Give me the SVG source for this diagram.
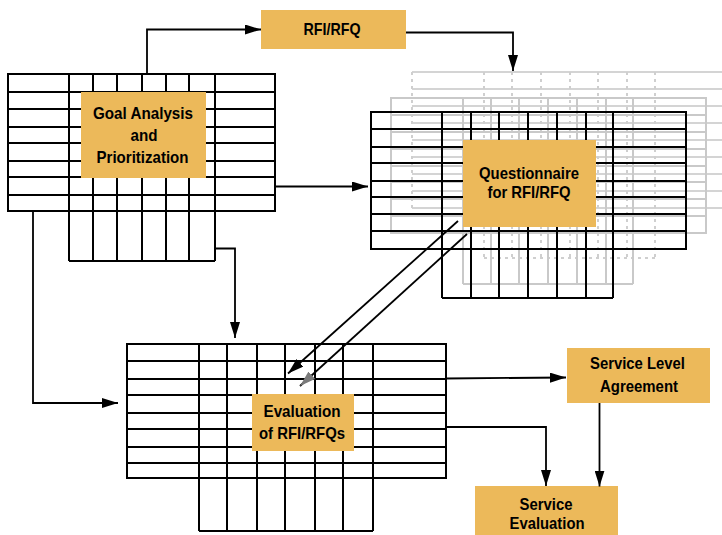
<svg xmlns="http://www.w3.org/2000/svg" width="722" height="535" viewBox="0 0 722 535">
<style>
.grid{fill:none;stroke:#000;stroke-width:2}
.gray{fill:none;stroke:#c9c9c9;stroke-width:2}
.back{fill:none;stroke:#d4d4d4;stroke-width:2}
.dash{fill:none;stroke:#cfcfcf;stroke-width:2;stroke-dasharray:3,4}
.box{fill:#ECB95A}
.lbl{font-family:"Liberation Sans",Arial,sans-serif;font-weight:bold;font-size:16.5px;fill:#000;text-anchor:middle}
.conn{fill:none;stroke:#000;stroke-width:1.8}
</style>
<defs>
<marker id="ah" markerUnits="userSpaceOnUse" viewBox="0 0 16 10" refX="16" refY="5" markerWidth="16" markerHeight="10" orient="auto">
<path d="M0,0 L16,5 L0,10 Z" fill="#000"/>
</marker>
<marker id="ahg" markerUnits="userSpaceOnUse" viewBox="0 0 16 10" refX="16" refY="5" markerWidth="16" markerHeight="10" orient="auto">
<path d="M0,0 L16,5 L0,10 Z" fill="#7a7a7a"/>
</marker>
</defs>
<rect width="722" height="535" fill="#fff"/>

<g id="goal">
<path class="grid" d="M8,74H275V211H8Z M8,92H275 M8,109H275 M8,127H275 M8,143H275 M8,161H275 M8,177H275 M8,195H275 M69,74V261 M93,74V261 M117,74V261 M142,74V261 M166,74V261 M189,74V261 M215,74V261 M69,261H215"/>
<rect class="box" x="81" y="92" width="125" height="86"/>
<text class="lbl" x="143" y="119" textLength="100" lengthAdjust="spacingAndGlyphs">Goal Analysis</text>
<text class="lbl" x="144" y="141" textLength="27" lengthAdjust="spacingAndGlyphs">and</text>
<text class="lbl" x="142.5" y="162.5" textLength="92" lengthAdjust="spacingAndGlyphs">Prioritization</text>
</g>

<g id="rfi">
<rect class="box" x="261" y="10" width="145" height="39"/>
<text class="lbl" x="332" y="34.5" textLength="57" lengthAdjust="spacingAndGlyphs">RFI/RFQ</text>
</g>

<g id="questionnaire">
<path class="back" d="M412,72H722 M412,89H722 M412,106H722 M412,123H722 M412,140H722 M412,157H722 M412,174H722 M412,191H722 M412,208H722"/>
<path class="dash" d="M412,72V208 M484,72V258 M512,72V258 M541,72V258 M570,72V258 M598,72V258 M627,72V258 M655,72V258 M484,258H655"/>
<path class="gray" d="M391,98H706V233H391Z M391,115H706 M391,132H706 M391,149H706 M391,166H706 M391,182H706 M391,199H706 M391,216H706 M463,98V284 M491,98V284 M519,98V284 M548,98V284 M577,98V284 M606,98V284 M633,98V284 M463,284H633"/>
<path class="grid" d="M371,112H686V249H371Z M371,129H686 M371,147H686 M371,163H686 M371,181H686 M371,197H686 M371,214H686 M371,231H686 M442,112V298 M471,112V298 M499,112V298 M528,112V298 M557,112V298 M586,112V298 M613,112V298 M442,298H613"/>
<rect class="box" x="463" y="140" width="133" height="87"/>
<text class="lbl" x="529" y="179" textLength="100" lengthAdjust="spacingAndGlyphs">Questionnaire</text>
<text class="lbl" x="529" y="198" textLength="83" lengthAdjust="spacingAndGlyphs">for RFI/RFQ</text>
</g>

<g id="evaluation">
<path class="grid" d="M127,344H446V478H127Z M127,361H446 M127,379H446 M127,395H446 M127,413H446 M127,429H446 M127,447H446 M127,463H446 M199,344V531 M227,344V531 M257,344V531 M285,344V531 M315,344V531 M343,344V531 M373,344V531 M199,531H373"/>
<rect class="box" x="252" y="394" width="102" height="57"/>
<text class="lbl" x="302" y="417" textLength="77" lengthAdjust="spacingAndGlyphs">Evaluation</text>
<text class="lbl" x="302" y="438.5" textLength="86" lengthAdjust="spacingAndGlyphs">of RFI/RFQs</text>
</g>

<g id="sla">
<rect class="box" x="567" y="348" width="143" height="55"/>
<text class="lbl" x="637.5" y="369" textLength="95" lengthAdjust="spacingAndGlyphs">Service Level</text>
<text class="lbl" x="639" y="392" textLength="78" lengthAdjust="spacingAndGlyphs">Agreement</text>
</g>

<g id="service-eval">
<rect class="box" x="475" y="486" width="143" height="49"/>
<text class="lbl" x="546" y="509.5" textLength="53" lengthAdjust="spacingAndGlyphs">Service</text>
<text class="lbl" x="547" y="528.5" textLength="75" lengthAdjust="spacingAndGlyphs">Evaluation</text>
</g>

<g id="connectors">
<path class="conn" d="M147,74V29.5H261" marker-end="url(#ah)"/>
<path class="conn" d="M406,32.5H513V71" marker-end="url(#ah)"/>
<path class="conn" d="M275,186.5H368" marker-end="url(#ah)"/>
<path class="conn" d="M33,211V403H118" marker-end="url(#ah)"/>
<path class="conn" d="M215,248.5H235V338" marker-end="url(#ah)"/>
<path class="conn" d="M458,221L288,373.5" marker-end="url(#ah)"/>
<path class="conn" d="M467,234L300,386" marker-end="url(#ahg)"/>
<path class="conn" d="M446,378.5L566,377.5" marker-end="url(#ah)"/>
<path class="conn" d="M446,427H546V486" marker-end="url(#ah)"/>
<path class="conn" d="M599.5,403V486.5" marker-end="url(#ah)"/>
</g>
</svg>
